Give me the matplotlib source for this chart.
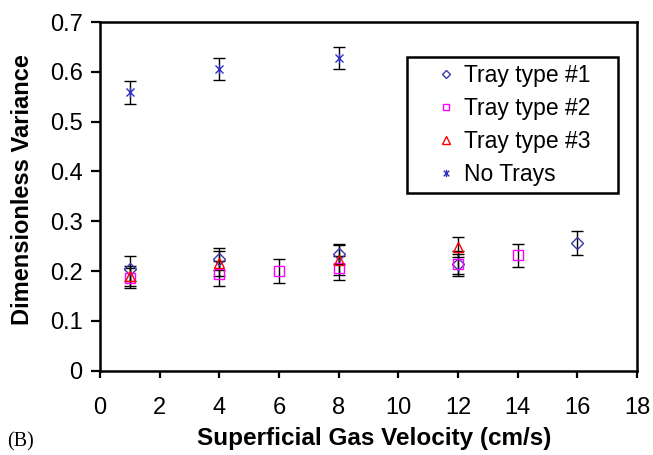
#!/usr/bin/env python3
import matplotlib
matplotlib.use('Agg')
import matplotlib.pyplot as plt
from matplotlib.path import Path
from matplotlib.lines import Line2D
from matplotlib.patches import Rectangle

plt.rcParams['font.family'] = ['Liberation Sans', 'DejaVu Sans']

## data
tray1_x = [1, 4, 8, 12, 16]
tray1_y = [0.205, 0.225, 0.234, 0.215, 0.256]
tray1_err = [0.025, 0.022, 0.020, 0.025, 0.024]

tray2_x = [1, 4, 6, 8, 12, 14]
tray2_y = [0.187, 0.195, 0.200, 0.206, 0.214, 0.232]
tray2_err = [0.020, 0.025, 0.024, 0.024, 0.020, 0.023]

tray3_x = [1, 4, 8, 12]
tray3_y = [0.190, 0.216, 0.222, 0.248]
tray3_err = [0.020, 0.025, 0.030, 0.020]

notray_x = [1, 4, 8]
notray_y = [0.559, 0.606, 0.627]
notray_err = [0.023, 0.022, 0.022]

labels = ['Tray type #1', 'Tray type #2', 'Tray type #3', 'No Trays']

W, H = 653, 455
def fx(px): return px / W
def fy(py): return 1 - py / H

## excel-like star: an x with a vertical bar
star = Path([(-1, -1), (1, 1), (-1, 1), (1, -1), (0, -1.3), (0, 1.3)],
            [Path.MOVETO, Path.LINETO, Path.MOVETO, Path.LINETO, Path.MOVETO, Path.LINETO])

series = [
    (tray1_x, tray1_y, tray1_err, 'D', '#3a3aa8', 6.5),
    (tray2_x, tray2_y, tray2_err, 's', '#ff00ff', 7.0),
    (tray3_x, tray3_y, tray3_err, '^', '#ff0000', 7.5),
    (notray_x, notray_y, notray_err, star, '#3030c0', 7.5),
]

fig = plt.figure(figsize=(W / 100, H / 100), dpi=100)
ax = fig.add_axes([fx(100), fy(370.7), fx(637) - fx(100), fy(22) - fy(370.7)])

handles = []
for (x, y, e, m, c, ms), lab in zip(series, labels):
    ax.errorbar(x, y, yerr=e, fmt='none', ecolor='black', elinewidth=1.0,
                capsize=4, capthick=1.0, zorder=2)
    ax.plot(x, y, linestyle='none', marker=m, markersize=ms,
            markerfacecolor='none', markeredgecolor=c, markeredgewidth=1.0, zorder=3)
    handles.append(Line2D([], [], linestyle='none', marker=m, markersize=ms * 0.7,
                          markerfacecolor='none', markeredgecolor=c, markeredgewidth=1.0))

ax.set_xlim(0, 18)
ax.set_ylim(0, 0.7)
ax.set_xticks(range(0, 19, 2))
ax.set_yticks([0, 0.1, 0.2, 0.3, 0.4, 0.5, 0.6, 0.7])
ax.set_yticklabels(['0', '0.1', '0.2', '0.3', '0.4', '0.5', '0.6', '0.7'])
ax.tick_params(axis='both', direction='out', width=1.6, labelsize=17)
ax.tick_params(axis='x', length=5, pad=14)
ax.tick_params(axis='y', length=6.5, pad=6)
for sp in ax.spines.values():
    sp.set_linewidth(1.8)

fig.text(fx(374), fy(438), 'Superficial Gas Velocity (cm/s)', fontsize=17.5,
         fontweight='bold', ha='center', va='center')
fig.text(fx(23), fy(190), 'Dimensionless Variance', fontsize=17,
         fontweight='bold', ha='center', va='center', rotation=90)

## legend box drawn on its own, entries placed inside it
fig.patches.append(Rectangle((fx(407), fy(193)), fx(618) - fx(407), fy(57) - fy(193),
                             transform=fig.transFigure, facecolor='white',
                             edgecolor='black', linewidth=1.8, zorder=4))
leg = fig.legend(handles, labels, loc='upper left', bbox_to_anchor=(fx(435), fy(64)),
                 fontsize=16.5, frameon=False, borderpad=0, borderaxespad=0,
                 handlelength=1.0, handletextpad=0.28, labelspacing=0.43)
leg.set_zorder(5)

fig.text(fx(7), fy(442), '(B)', fontsize=14.5, family='Liberation Serif', va='center')

plt.savefig('out.png', dpi=100)
